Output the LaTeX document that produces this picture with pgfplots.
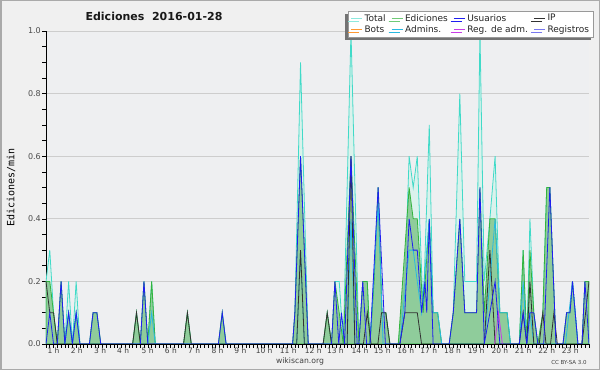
\documentclass[border=0pt]{standalone}
\usepackage{fontspec}
\setmainfont{DejaVu Sans}
\newfontfamily\monofont{DejaVu Sans Mono}
\usepackage{pgfplots}
\pgfplotsset{compat=1.18}
\usetikzlibrary{shadows}
\definecolor{figbg}{RGB}{240,240,240}
\definecolor{plotbg}{RGB}{238,239,241}
\definecolor{framegray}{RGB}{170,170,170}
\definecolor{gridgray}{RGB}{205,205,205}
\definecolor{totline}{RGB}{64,218,200}
\definecolor{totfill}{RGB}{218,242,236}
\definecolor{edline}{RGB}{50,180,60}
\definecolor{edfill}{RGB}{125,195,135}
\definecolor{usu}{RGB}{30,30,240}
\definecolor{ipc}{RGB}{50,50,50}
\definecolor{bots}{RGB}{255,153,51}
\definecolor{admins}{RGB}{40,185,225}
\definecolor{regadm}{RGB}{200,60,230}
\definecolor{registros}{RGB}{120,120,240}

\pgfplotstableread{
t v
0 0.2
0.167 0.3
0.333 0.1
0.5 0
0.667 0.2
0.833 0
1.0 0.2
1.167 0
1.333 0.2
1.5 0
1.92 0
2.08 0.1
2.25 0.1
2.42 0
3.83 0
4.0 0.1
4.17 0
4.33 0.2
4.5 0
4.67 0.2
4.83 0
6.08 0
6.25 0.1
6.42 0
7.62 0
7.79 0.1
7.96 0
10.9 0
11.0 0.1
11.25 0.9
11.59 0
12.25 0
12.43 0.1
12.62 0
12.77 0.2
12.96 0.2
13.14 0
13.48 1.0
13.83 0
14.0 0.2
14.2 0.2
14.32 0
14.5 0.2
14.68 0.5
14.85 0.1
15.02 0.1
15.2 0
15.57 0
15.86 0.2
16.05 0.6
16.23 0.5
16.41 0.6
16.67 0.1
16.94 0.7
17.11 0.1
17.31 0.1
17.49 0
17.82 0
18.0 0.1
18.29 0.8
18.51 0.2
19.03 0.2
19.18 1.0
19.37 0.2
19.62 0.4
19.85 0.6
20.06 0.1
20.38 0.1
20.53 0
20.92 0
21.09 0.3
21.25 0
21.39 0.4
21.56 0.1
21.74 0
21.96 0.1
22.13 0.5
22.27 0.5
22.54 0
22.85 0
23.01 0.1
23.16 0.1
23.27 0.2
23.51 0
23.69 0
23.82 0.2
24.0 0.2
}\total

\pgfplotstableread{
t v
0 0.2
0.167 0.2
0.333 0.1
0.5 0
0.667 0.2
0.833 0
1.0 0.1
1.167 0
1.333 0.1
1.5 0
1.92 0
2.08 0.1
2.25 0.1
2.42 0
3.83 0
4.0 0.1
4.17 0
4.33 0.2
4.5 0
4.67 0.2
4.83 0
6.08 0
6.25 0.1
6.42 0
7.62 0
7.79 0.1
7.96 0
10.9 0
11.0 0.1
11.25 0.6
11.59 0
12.25 0
12.43 0.1
12.62 0
12.77 0.2
12.96 0.1
13.14 0
13.48 0.6
13.83 0
14.0 0.2
14.2 0.2
14.32 0
14.5 0.2
14.68 0.5
14.85 0.1
15.02 0.1
15.2 0
15.57 0
16.05 0.5
16.23 0.4
16.41 0.4
16.67 0.1
16.94 0.4
17.11 0.1
17.31 0.1
17.49 0
17.82 0
18.0 0.1
18.29 0.4
18.51 0.1
19.03 0.1
19.18 0.5
19.37 0.1
19.62 0.4
19.85 0.4
20.06 0.1
20.38 0.1
20.53 0
20.92 0
21.09 0.3
21.25 0
21.39 0.3
21.56 0.1
21.74 0
21.96 0.1
22.13 0.5
22.27 0.5
22.54 0
22.85 0
23.01 0.1
23.16 0.1
23.27 0.2
23.51 0
23.69 0
23.82 0.2
24.0 0.2
}\ediciones

\pgfplotstableread{
t v
0 0
0.167 0.1
0.333 0
0.5 0
0.667 0.2
0.833 0
1.0 0.1
1.167 0
1.333 0.1
1.5 0
1.92 0
2.08 0.1
2.25 0.1
2.42 0
4.17 0
4.33 0.2
4.5 0
7.62 0
7.79 0.1
7.96 0
10.9 0
11.0 0.1
11.25 0.6
11.59 0
12.62 0
12.77 0.2
12.94 0
13.06 0.1
13.2 0
13.48 0.6
13.75 0
13.83 0
14.0 0.2
14.17 0
14.32 0
14.68 0.5
15.0 0
15.64 0
15.86 0.1
16.05 0.4
16.23 0.3
16.41 0.3
16.6 0.1
16.75 0.2
16.83 0.1
16.94 0.4
17.11 0
17.82 0
18.0 0.1
18.29 0.4
18.51 0.1
19.03 0.1
19.18 0.5
19.37 0
19.62 0.1
19.85 0.2
20.06 0
20.92 0
21.09 0.1
21.25 0
21.39 0.1
21.56 0.1
21.74 0
22.0 0
22.27 0.5
22.54 0
22.85 0
23.01 0.1
23.16 0.1
23.27 0.2
23.51 0
23.69 0
23.82 0.2
24.0 0
}\usuarios

\pgfplotstableread{
t v
0 0.2
0.167 0.1
0.333 0.1
0.5 0
3.83 0
4.0 0.1
4.17 0
6.08 0
6.25 0.1
6.42 0
11.08 0
11.25 0.3
11.42 0
12.25 0
12.43 0.1
12.62 0
13.31 0
13.48 0.6
13.65 0
14.03 0
14.2 0.1
14.37 0
14.67 0
14.83 0.1
15.02 0.1
15.2 0
15.64 0
15.86 0.1
16.41 0.1
16.6 0
19.37 0
19.62 0.3
19.85 0
20.92 0
21.09 0.1
21.25 0
21.39 0.2
21.56 0
21.8 0
21.96 0.1
22.1 0
22.3 0
22.45 0.1
22.6 0
23.69 0
23.85 0.1
24.0 0.2
}\ip

\pgfplotstableread{
t v
0.833 0
1.0 0.1
1.167 0
1.333 0.1
1.5 0
4.5 0
4.67 0.1
4.83 0
11.08 0
11.25 0.3
11.42 0
13.31 0
13.48 0.4
13.65 0
14.32 0
14.68 0.45
14.9 0
15.64 0
16.05 0.3
16.23 0.3
16.41 0.2
16.6 0.1
16.94 0.4
17.11 0.1
17.31 0.1
17.49 0
19.37 0
19.62 0.2
19.85 0.4
20.06 0.1
20.38 0.1
20.53 0
20.92 0
21.09 0.2
21.25 0
21.39 0.1
21.56 0
22.96 0
23.27 0.2
23.51 0
}\admins

\pgfplotstableread{
t v
19.83 0
20.0 0.1
20.17 0
}\regadm

\begin{document}
\begin{tikzpicture}[x=1pt,y=1pt]
\fill[figbg] (0,0) rectangle (600,370);
\draw[framegray, line width=1.5pt] (0.75,0.75) rectangle (599.25,369.25);
\begin{axis}[
  at={(46pt,26pt)}, anchor=south west, scale only axis,
  width=543pt, height=313pt,
  xmin=0, xmax=24, ymin=0, ymax=1,
  axis background/.style={fill=plotbg},
  axis x line*=bottom, axis y line*=left,
  axis line style={black, line width=0.8pt},
  xtick distance=0.16666667,
  xticklabels={},
  x tick style={black, line width=0.6pt},
  major tick length=3.5pt,
  tick align=outside,
  ytick={0,0.2,0.4,0.6,0.8,1.0},
  minor y tick num=3,
  minor tick length=3.5pt,
  y tick style={black, line width=0.6pt},
  ymajorgrids, grid style={gridgray, line width=0.8pt},
  /pgf/number format/assume math mode=true,
  yticklabel style={/pgf/number format/.cd, fixed, fixed zerofill, precision=1, /tikz/.cd, font=\fontsize{8}{8}\selectfont, text=black!70, inner sep=1.5pt},
  extra x ticks={0.33,1.36,2.39,3.41,4.49,5.52,6.55,7.58,8.59,9.64,10.71,11.81,12.79,13.88,14.86,15.90,16.92,17.97,19.01,20.06,21.09,22.13,23.17},
  extra x tick labels={1 h,2 h,3 h,4 h,5 h,6 h,7 h,8 h,9 h,10 h,11 h,12 h,13 h,14 h,15 h,16 h,17 h,18 h,19 h,20 h,21 h,22 h,23 h},
  extra x tick style={major tick length=0pt, xticklabel style={font=\fontsize{7.5}{7.5}\selectfont, text=black!75, inner sep=0pt, yshift=-3.5pt}},
  ylabel={\monofont Ediciones/min},
  ylabel style={at={(axis description cs:-0.0645,0.5)}, anchor=center, font=\fontsize{10}{10}\selectfont, text=black},
  legend columns=4,
  legend cell align=left,
  legend style={at={(axis description cs:1.009,1.064)}, anchor=north east,
    draw=black!40, fill=white, line width=0.6pt,
    font=\fontsize{9}{9}\selectfont, text=black!85,
    inner xsep=2.5pt, inner ysep=2pt, row sep=1pt,
    drop shadow={shadow xshift=-3pt, shadow yshift=-3pt, fill=black!55, opacity=1},
    /tikz/every even column/.append style={column sep=3.5pt},
    nodes={inner xsep=2pt, inner ysep=1pt}},
  legend image code/.code={\draw[#1, line width=1pt] (0pt,0pt) -- (11pt,0pt);},
]
\addlegendimage{totline!60}\addlegendentry{Total}
\addlegendimage{edline!70}\addlegendentry{Ediciones}
\addlegendimage{usu}\addlegendentry{Usuarios}
\addlegendimage{ipc}\addlegendentry{IP}
\addlegendimage{bots}\addlegendentry{Bots}
\addlegendimage{admins}\addlegendentry{Admins.}
\addlegendimage{regadm}\addlegendentry{Reg. de adm.}
\addlegendimage{registros}\addlegendentry{Registros}

\addplot[draw=totline, fill=totfill, line width=0.8pt, forget plot] table[x=t,y=v] {\total} \closedcycle;
\addplot[draw=edline, fill=edfill, fill opacity=0.8, line width=0.8pt, forget plot] table[x=t,y=v] {\ediciones} \closedcycle;
\addplot[draw=admins, line width=0.8pt, forget plot] table[x=t,y=v] {\admins};
\addplot[draw=ipc, line width=0.8pt, forget plot] table[x=t,y=v] {\ip};
\addplot[draw=regadm, line width=0.8pt, forget plot] table[x=t,y=v] {\regadm};
\addplot[draw=usu, line width=0.8pt, forget plot] table[x=t,y=v] {\usuarios};
\draw[black, line width=0.8pt] (rel axis cs:0,0) -- (rel axis cs:1,0);
\end{axis}
\node[font=\fontsize{11}{11}\selectfont\bfseries, text=black!90] at (154,354) {Ediciones\ \ 2016-01-28};
\node[font=\fontsize{7.7}{7.7}\selectfont, text=black!75] at (300,9) {wikiscan.org};
\node[font=\fontsize{5.5}{5.5}\selectfont, text=black!75] at (569,8) {CC BY-SA 3.0};
\pgfresetboundingbox
\useasboundingbox (0,0) rectangle (600,370);
\end{tikzpicture}
\end{document}
